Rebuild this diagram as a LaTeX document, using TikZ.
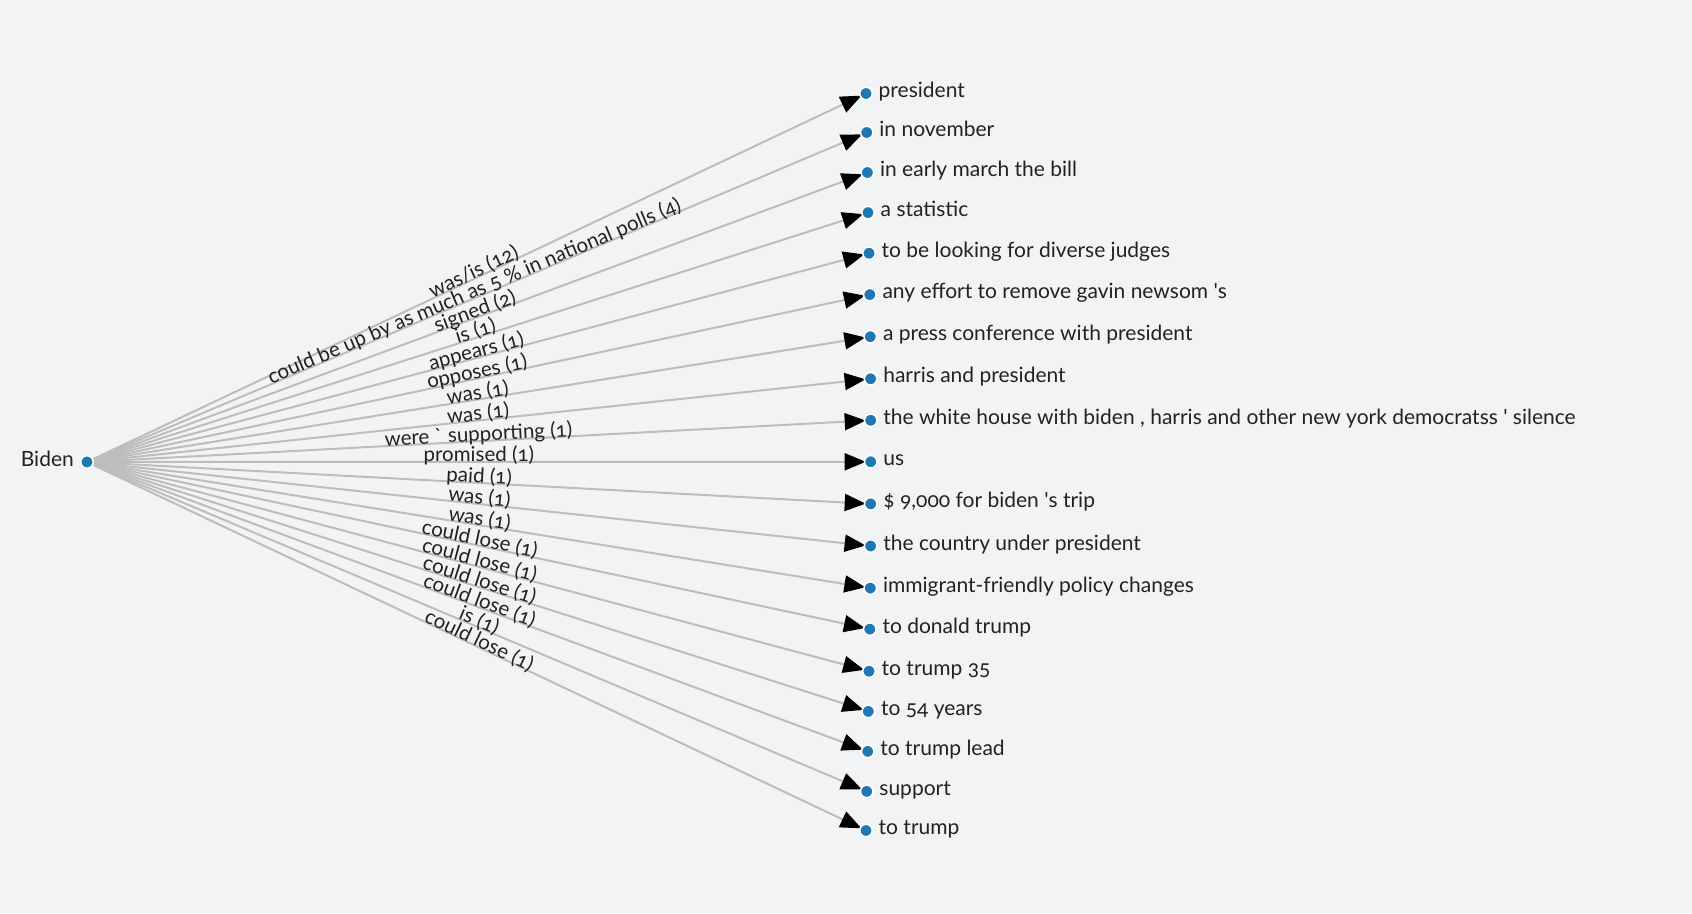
\documentclass[tikz,border=0pt]{standalone}
\usepackage{fontspec}
\setmainfont{Lato}[Numbers=OldStyle]
\usetikzlibrary{arrows.meta,backgrounds}
\definecolor{bgc}{HTML}{F2F3F5}
\definecolor{dotc}{HTML}{1F77B4}
\definecolor{edgec}{HTML}{BDBDBD}
\definecolor{txtc}{HTML}{222222}
\tikzset{
  dot/.style={circle, fill=dotc, draw=white, line width=1.5pt, minimum size=12.5pt, inner sep=0pt},
  lab/.style={anchor=base west, inner sep=0pt, text=txtc, font=\fontsize{21}{24}\selectfont},
  edge/.style={draw=edgec, line width=2pt, shorten >=-2pt, -{Triangle[length=21pt,width=17pt,color=black]}},
  elab/.style={midway, sloped, anchor=base, inner sep=0pt, text=txtc, font=\fontsize{20.5}{24}\selectfont},
}
\begin{document}
\begin{tikzpicture}[x=1pt,y=-1pt]
\useasboundingbox (0,0) rectangle (1692,913);
\node[dot] (b) at (87,462) {};
\node[lab, anchor=base east] (bl) at (74,466) {Biden};
\node[dot] (t1) at (866,93.5) {};
\node[dot] (t2) at (866.7,132.5) {};
\node[dot] (t3) at (867.4,172.5) {};
\node[dot] (t4) at (868,212.6) {};
\node[dot] (t5) at (869,253.2) {};
\node[dot] (t6) at (869.8,294.6) {};
\node[dot] (t7) at (870.3,336.7) {};
\node[dot] (t8) at (870.6,378.8) {};
\node[dot] (t9) at (870.7,420.3) {};
\node[dot] (t10) at (870.7,461.8) {};
\node[dot] (t11) at (870.7,503.9) {};
\node[dot] (t12) at (870.6,546) {};
\node[dot] (t13) at (870.3,588.1) {};
\node[dot] (t14) at (869.8,629.1) {};
\node[dot] (t15) at (869,671.2) {};
\node[dot] (t16) at (868.3,711.4) {};
\node[dot] (t17) at (867.7,751.4) {};
\node[dot] (t18) at (866.7,791.4) {};
\node[dot] (t19) at (866,830.5) {};
\node[lab] (l1) at ([xshift=12.5pt,yshift=-4pt]t1.center) {president};
\node[lab] (l2) at ([xshift=12.5pt,yshift=-4pt]t2.center) {in november};
\node[lab] (l3) at ([xshift=12.5pt,yshift=-4pt]t3.center) {in early march the bill};
\node[lab] (l4) at ([xshift=12.5pt,yshift=-4pt]t4.center) {a statistic};
\node[lab] (l5) at ([xshift=12.5pt,yshift=-4pt]t5.center) {to be looking for diverse judges};
\node[lab] (l6) at ([xshift=12.5pt,yshift=-4pt]t6.center) {any effort to remove gavin newsom \textquotesingle s};
\node[lab] (l7) at ([xshift=12.5pt,yshift=-4pt]t7.center) {a press conference with president};
\node[lab] (l8) at ([xshift=12.5pt,yshift=-4pt]t8.center) {harris and president};
\node[lab] (l9) at ([xshift=12.5pt,yshift=-4pt]t9.center) {the white house with biden , harris and other new york democratss \textquotesingle{} silence};
\node[lab] (l10) at ([xshift=12.5pt,yshift=-4pt]t10.center) {us};
\node[lab] (l11) at ([xshift=12.5pt,yshift=-4pt]t11.center) {\$ 9,000 for biden \textquotesingle s trip};
\node[lab] (l12) at ([xshift=12.5pt,yshift=-4pt]t12.center) {the country under president};
\node[lab] (l13) at ([xshift=12.5pt,yshift=-4pt]t13.center) {immigrant-friendly policy changes};
\node[lab] (l14) at ([xshift=12.5pt,yshift=-4pt]t14.center) {to donald trump};
\node[lab] (l15) at ([xshift=12.5pt,yshift=-4pt]t15.center) {to trump 35};
\node[lab] (l16) at ([xshift=12.5pt,yshift=-4pt]t16.center) {to 54 years};
\node[lab] (l17) at ([xshift=12.5pt,yshift=-4pt]t17.center) {to trump lead};
\node[lab] (l18) at ([xshift=12.5pt,yshift=-4pt]t18.center) {support};
\node[lab] (l19) at ([xshift=12.5pt,yshift=-4pt]t19.center) {to trump};
\begin{scope}[on background layer]
\fill[bgc] (0,0) rectangle (1692,913);
\draw[edge] (b) -- (t1) node[elab] {was/is (12)};
\draw[edge] (b) -- (t2) node[elab] {could be up by as much as 5 \% in national polls (4)};
\draw[edge] (b) -- (t3) node[elab] {signed (2)};
\draw[edge] (b) -- (t4) node[elab] {is (1)};
\draw[edge] (b) -- (t5) node[elab] {appears (1)};
\draw[edge] (b) -- (t6) node[elab] {opposes (1)};
\draw[edge] (b) -- (t7) node[elab] {was (1)};
\draw[edge] (b) -- (t8) node[elab] {was (1)};
\draw[edge] (b) -- (t9) node[elab] {were \textasciigrave{} supporting (1)};
\draw[edge] (b) -- (t10) node[elab] {promised (1)};
\draw[edge] (b) -- (t11) node[elab] {paid (1)};
\draw[edge] (b) -- (t12) node[elab] {was (1)};
\draw[edge] (b) -- (t13) node[elab] {was (1)};
\draw[edge] (b) -- (t14) node[elab] {could lose (1)};
\draw[edge] (b) -- (t15) node[elab] {could lose (1)};
\draw[edge] (b) -- (t16) node[elab] {could lose (1)};
\draw[edge] (b) -- (t17) node[elab] {could lose (1)};
\draw[edge] (b) -- (t18) node[elab] {is (1)};
\draw[edge] (b) -- (t19) node[elab] {could lose (1)};
\end{scope}
\end{tikzpicture}
\end{document}
